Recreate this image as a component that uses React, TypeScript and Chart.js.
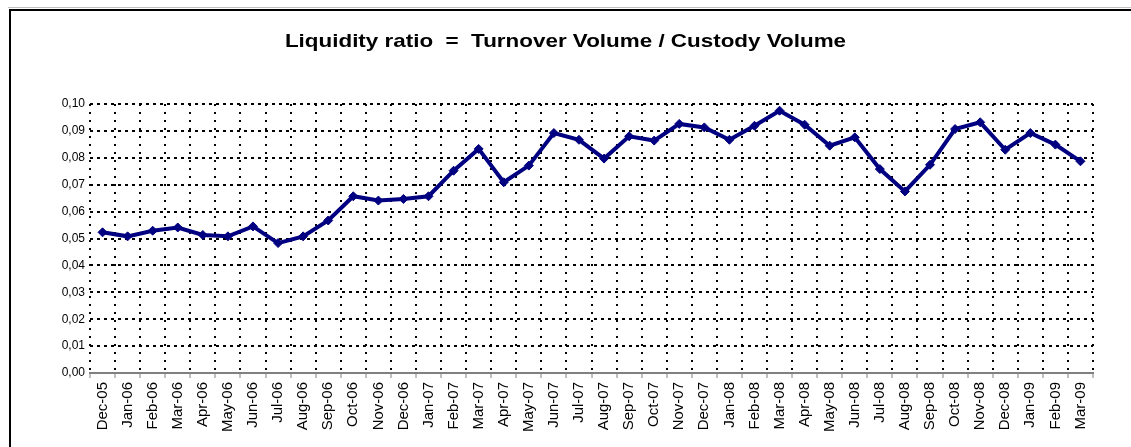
import React, { useEffect, useRef } from "react";
import { Chart, registerables } from "chart.js";

Chart.register(...registerables);

const categories: string[] = [
  "Dec-05",
  "Jan-06", "Feb-06", "Mar-06", "Apr-06", "May-06", "Jun-06", "Jul-06", "Aug-06", "Sep-06", "Oct-06", "Nov-06", "Dec-06",
  "Jan-07", "Feb-07", "Mar-07", "Apr-07", "May-07", "Jun-07", "Jul-07", "Aug-07", "Sep-07", "Oct-07", "Nov-07", "Dec-07",
  "Jan-08", "Feb-08", "Mar-08", "Apr-08", "May-08", "Jun-08", "Jul-08", "Aug-08", "Sep-08", "Oct-08", "Nov-08", "Dec-08",
  "Jan-09", "Feb-09", "Mar-09",
];

const liquidityRatio: number[] = [
  0.0523,
  0.0508, 0.0529, 0.0541, 0.0513, 0.0508, 0.0545, 0.0483, 0.0508, 0.0567, 0.0657, 0.0641, 0.0647,
  0.0657, 0.0752, 0.0833, 0.0709, 0.0771, 0.0892, 0.0867, 0.0797, 0.088, 0.0864, 0.0926, 0.0913,
  0.0867, 0.0919, 0.0975, 0.0923, 0.0845, 0.0876, 0.0758, 0.0675, 0.0774, 0.0907, 0.0932, 0.083,
  0.0892, 0.0849, 0.0787,
];

const titleText = "Liquidity ratio  =  Turnover Volume / Custody Volume";
const yMin = 0;
const yMax = 0.1;
const yStep = 0.01;

const FONT = "'Liberation Sans', Arial, Helvetica, sans-serif";

export default function App() {
  const canvasRef = useRef<HTMLCanvasElement | null>(null);

  useEffect(() => {
    if (!canvasRef.current) return;
    const chart = new Chart(canvasRef.current, {
      type: "line",
      data: {
        labels: categories,
        datasets: [
          {
            label: "Liquidity ratio",
            data: liquidityRatio,
            borderColor: "#000080",
            backgroundColor: "#000080",
            borderWidth: 4,
            pointStyle: "rectRot",
            pointRadius: 4.5,
            pointBorderWidth: 1,
            pointBackgroundColor: "#000080",
            pointBorderColor: "#000080",
            tension: 0,
          },
        ],
      },
      options: {
        animation: false,
        responsive: false,
        maintainAspectRatio: false,
        layout: { padding: { left: 0, right: 38, top: 104, bottom: 0 } },
        plugins: {
          legend: { display: false },
          tooltip: { enabled: false },
          title: { display: false },
        },
        scales: {
          x: {
            type: "category",
            offset: true,
            afterFit: (scale: any) => {
              scale.height = 74;
            },
            grid: {
              display: true,
              offset: true,
              color: "#000000",
              lineWidth: 2,
              drawTicks: true,
              tickLength: 5,
              tickColor: "#808080",
              tickWidth: 1,
              tickBorderDash: [],
            },
            border: { display: true, color: "#808080", width: 2, dash: [2, 6] },
            ticks: {
              autoSkip: false,
              minRotation: 90,
              maxRotation: 90,
              padding: 4,
              color: "#000000",
              font: { family: FONT, size: 15 },
            },
          },
          y: {
            min: yMin,
            max: yMax,
            afterFit: (scale: any) => {
              scale.width = 90;
            },
            grid: {
              display: true,
              color: "#000000",
              lineWidth: 2,
              drawTicks: false,
            },
            border: { display: false, dash: [3, 4] },
            ticks: {
              stepSize: yStep,
              padding: 5,
              color: "#000000",
              font: { family: FONT, size: 12 },
              callback: (v: any) => (Math.round(Number(v) * 100) / 100).toFixed(2).replace(".", ","),
            },
          },
        },
      },
    });
    return () => chart.destroy();
  }, []);

  return (
    <div style={{ position: "absolute", left: 0, top: 0, width: 1131, height: 447, background: "#ffffff", overflow: "hidden" }}>
      <div style={{ position: "absolute", left: 8, top: 7, width: 1123, height: 1, background: "#c0c0c0" }} />
      <div style={{ position: "absolute", left: 9, top: 9, width: 1122, height: 2, background: "#000000" }} />
      <div style={{ position: "absolute", left: 9, top: 9, width: 2, height: 438, background: "#000000" }} />
      <canvas ref={canvasRef} width={1131} height={447} style={{ position: "absolute", left: 0, top: 0, width: 1131, height: 447 }} />
      <div
        style={{
          position: "absolute",
          left: 0,
          top: 29,
          width: 1131,
          textAlign: "center",
          fontFamily: FONT,
          fontWeight: "bold",
          fontSize: 19,
          lineHeight: "23px",
          color: "#000000",
          whiteSpace: "pre",
          transform: "scaleX(1.18)",
          transformOrigin: "565.5px 0",
        }}
      >
        {titleText}
      </div>
    </div>
  );
}
